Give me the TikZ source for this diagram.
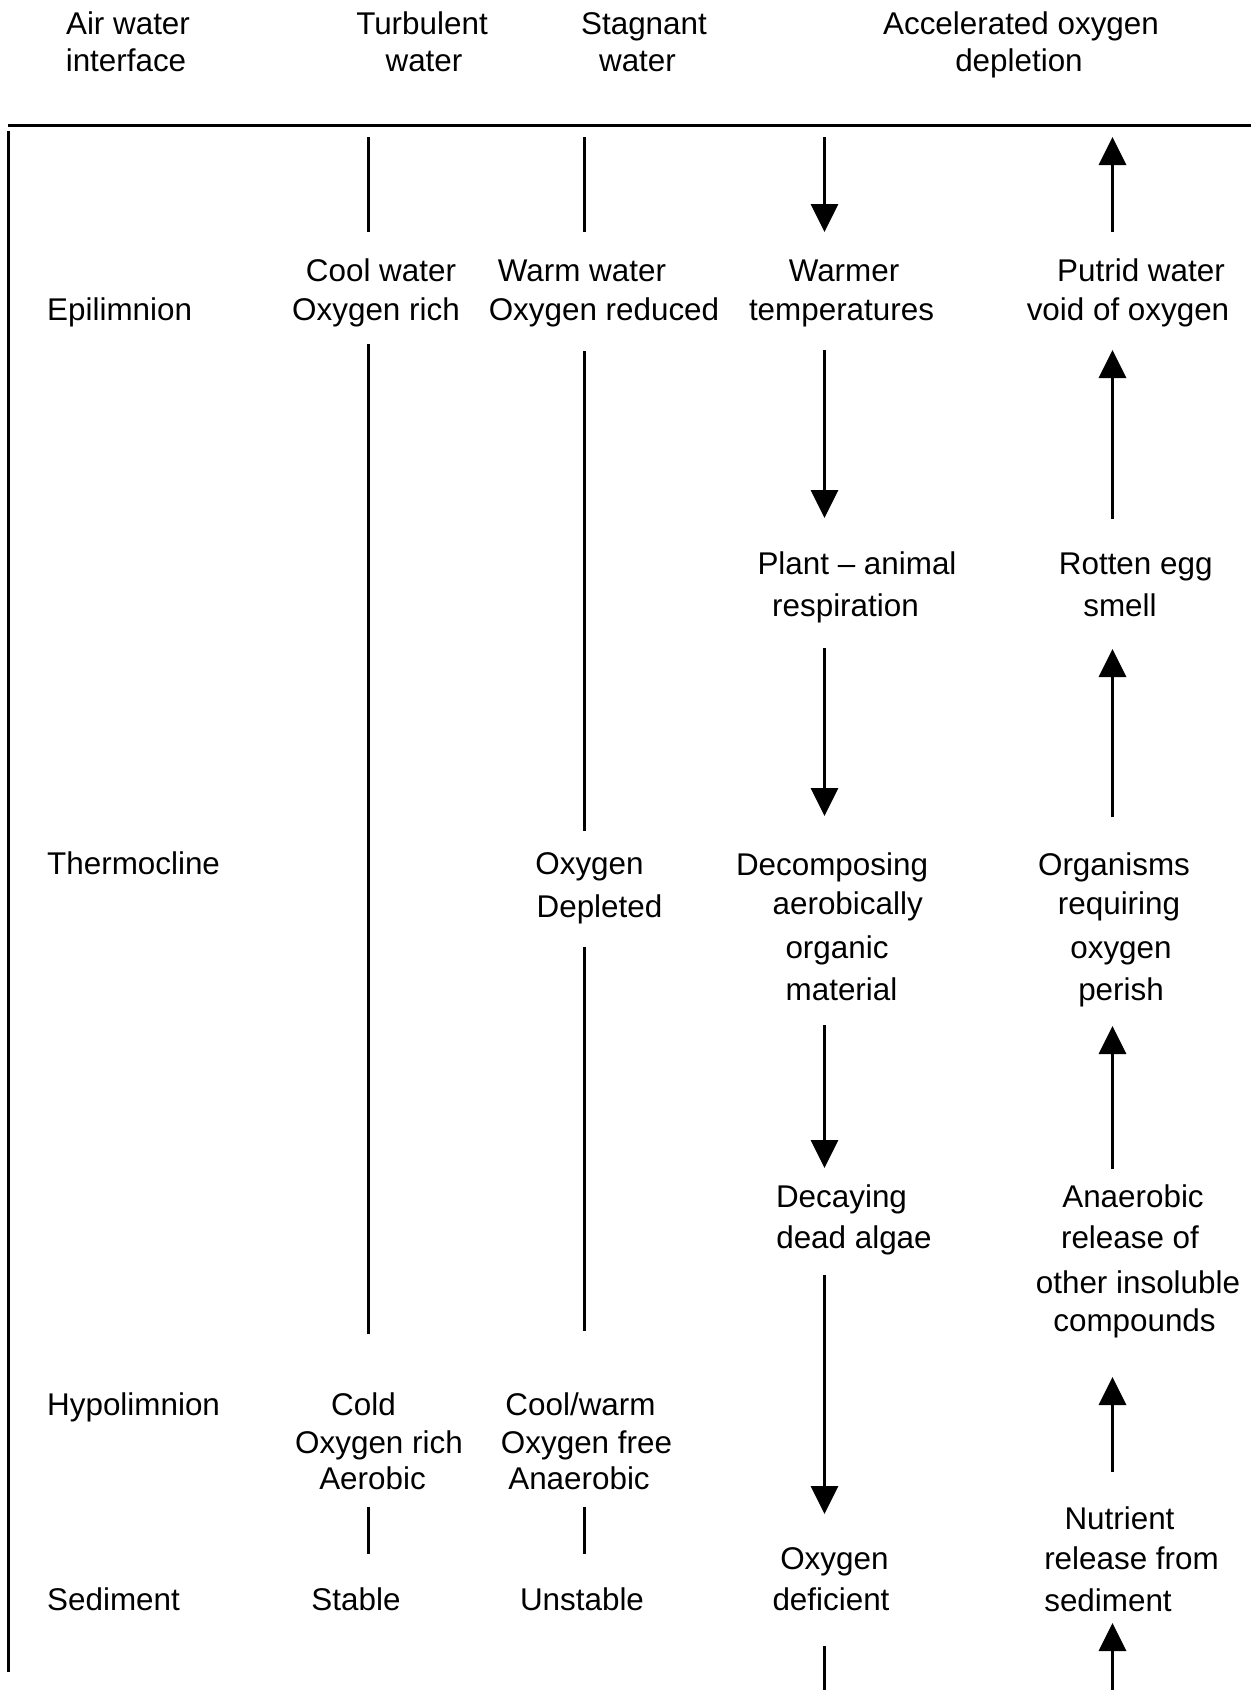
\documentclass[tikz,border=0pt]{standalone}
\usepackage{fontspec}
\setmainfont{Liberation Sans}
\usetikzlibrary{arrows.meta}
\begin{document}
\begin{tikzpicture}[x=1pt,y=-1pt,
  lbl/.style={anchor=base, inner sep=0pt, font=\fontsize{31.4pt}{38pt}\selectfont},
  rowlbl/.style={lbl, anchor=base west},
  ln/.style={line width=3pt},
  arr/.style={line width=3pt, -{Triangle[length=28pt,width=27pt]}}]
\useasboundingbox (0,0) rectangle (1251,1690);
\fill[white] (0,0) rectangle (1251,1690);

% header
\node[lbl] (h1a) at (128,34) {Air water};
\node[lbl] (h1b) at (126,71) {interface};
\node[lbl] (h2a) at (422,34) {Turbulent};
\node[lbl] (h2b) at (424,71) {water};
\node[lbl] (h3a) at (644,34) {Stagnant};
\node[lbl] (h3b) at (637.5,71) {water};
\node[lbl] (h4a) at (1021,34) {Accelerated oxygen};
\node[lbl] (h4b) at (1019,71) {depletion};

% frame
\coordinate (ruleL) at (8,125.5);
\coordinate (ruleR) at (1251,125.5);
\draw[ln] (ruleL) -- (ruleR);
\coordinate (leftT) at (8,131);
\coordinate (leftB) at (8,1672);
\draw[ln] (leftT) -- (leftB);

% row labels
\node[rowlbl] (epi) at (47,320) {Epilimnion};
\node[rowlbl] (thermo) at (47,874) {Thermocline};
\node[rowlbl] (hypo) at (47,1415) {Hypolimnion};
\node[rowlbl] (sedi) at (47,1610) {Sediment};

% column A: turbulent
\node[lbl] (a1) at (381,281) {Cool water};
\node[lbl] (a2) at (376,320) {Oxygen rich};
\node[lbl] (a3) at (363.5,1415) {Cold};
\node[lbl] (a4) at (379,1453) {Oxygen rich};
\node[lbl] (a5) at (372.5,1489) {Aerobic};
\node[lbl] (a6) at (356,1610) {Stable};

% column B: stagnant
\node[lbl] (b1) at (582,281) {Warm water};
\node[lbl] (b2) at (604,320) {Oxygen reduced};
\node[lbl] (b3) at (589.5,874) {Oxygen};
\node[lbl] (b4) at (599.5,917) {Depleted};
\node[lbl] (b5) at (580.5,1415) {Cool/warm};
\node[lbl] (b6) at (586.5,1453) {Oxygen free};
\node[lbl] (b7) at (579,1489) {Anaerobic};
\node[lbl] (b8) at (582,1610) {Unstable};

% column C
\node[lbl] (c1) at (844,281) {Warmer};
\node[lbl] (c2) at (841.5,320) {temperatures};
\node[lbl] (c3) at (857,574) {Plant – animal};
\node[lbl] (c4) at (845.5,616) {respiration};
\node[lbl] (c5) at (832,875) {Decomposing};
\node[lbl] (c6) at (847.7,914) {aerobically};
\node[lbl] (c7) at (837,958) {organic};
\node[lbl] (c8) at (841.5,1000) {material};
\node[lbl] (c9) at (841.5,1207) {Decaying};
\node[lbl] (c10) at (854,1248) {dead algae};
\node[lbl] (c11) at (834.4,1569) {Oxygen};
\node[lbl] (c12) at (831,1610) {deficient};

% column D
\node[lbl] (d1) at (1141,281) {Putrid water};
\node[lbl] (d2) at (1128,320) {void of oxygen};
\node[lbl] (d3) at (1135.7,574) {Rotten egg};
\node[lbl] (d4) at (1120,616) {smell};
\node[lbl] (d5) at (1114,875) {Organisms};
\node[lbl] (d6) at (1119,914) {requiring};
\node[lbl] (d7) at (1121,958) {oxygen};
\node[lbl] (d8) at (1121,1000) {perish};
\node[lbl] (d9) at (1133,1207) {Anaerobic};
\node[lbl] (d10) at (1130,1248) {release of};
\node[lbl] (d11) at (1138,1293) {other insoluble};
\node[lbl] (d12) at (1134.5,1331) {compounds};
\node[lbl] (d13) at (1119.5,1529) {Nutrient};
\node[lbl] (d14) at (1131.5,1569) {release from};
\node[lbl] (d15) at (1108,1611) {sediment};

% column A lines
\coordinate (A0) at (368.5,137);  \coordinate (A1) at (368.5,232);
\coordinate (A2) at (368.5,344);  \coordinate (A3) at (368.5,1334);
\coordinate (A4) at (368.5,1507); \coordinate (A5) at (368.5,1554);
\draw[ln] (A0) -- (A1);
\draw[ln] (A2) -- (A3);
\draw[ln] (A4) -- (A5);

% column B lines
\coordinate (B0) at (584.5,137);  \coordinate (B1) at (584.5,232);
\coordinate (B2) at (584.5,351);  \coordinate (B3) at (584.5,831);
\coordinate (B4) at (584.5,947);  \coordinate (B5) at (584.5,1331);
\coordinate (B6) at (584.5,1507); \coordinate (B7) at (584.5,1554);
\draw[ln] (B0) -- (B1);
\draw[ln] (B2) -- (B3);
\draw[ln] (B4) -- (B5);
\draw[ln] (B6) -- (B7);

% column C arrows (downward)
\coordinate (C0) at (824.5,137);  \coordinate (C1) at (824.5,232);
\coordinate (C2) at (824.5,350);  \coordinate (C3) at (824.5,518);
\coordinate (C4) at (824.5,648);  \coordinate (C5) at (824.5,816);
\coordinate (C6) at (824.5,1025); \coordinate (C7) at (824.5,1168);
\coordinate (C8) at (824.5,1275); \coordinate (C9) at (824.5,1514);
\coordinate (C10) at (824.5,1646); \coordinate (C11) at (824.5,1690);
\draw[arr] (C0) -- (C1);
\draw[arr] (C2) -- (C3);
\draw[arr] (C4) -- (C5);
\draw[arr] (C6) -- (C7);
\draw[arr] (C8) -- (C9);
\draw[ln] (C10) -- (C11);

% column D arrows (upward)
\coordinate (D0) at (1112.5,232);  \coordinate (D1) at (1112.5,137);
\coordinate (D2) at (1112.5,519);  \coordinate (D3) at (1112.5,350);
\coordinate (D4) at (1112.5,817);  \coordinate (D5) at (1112.5,649);
\coordinate (D6) at (1112.5,1169); \coordinate (D7) at (1112.5,1026);
\coordinate (D8) at (1112.5,1472); \coordinate (D9) at (1112.5,1377);
\coordinate (D10) at (1112.5,1690); \coordinate (D11) at (1112.5,1623);
\draw[arr] (D0) -- (D1);
\draw[arr] (D2) -- (D3);
\draw[arr] (D4) -- (D5);
\draw[arr] (D6) -- (D7);
\draw[arr] (D8) -- (D9);
\draw[arr] (D10) -- (D11);
\end{tikzpicture}
\end{document}
